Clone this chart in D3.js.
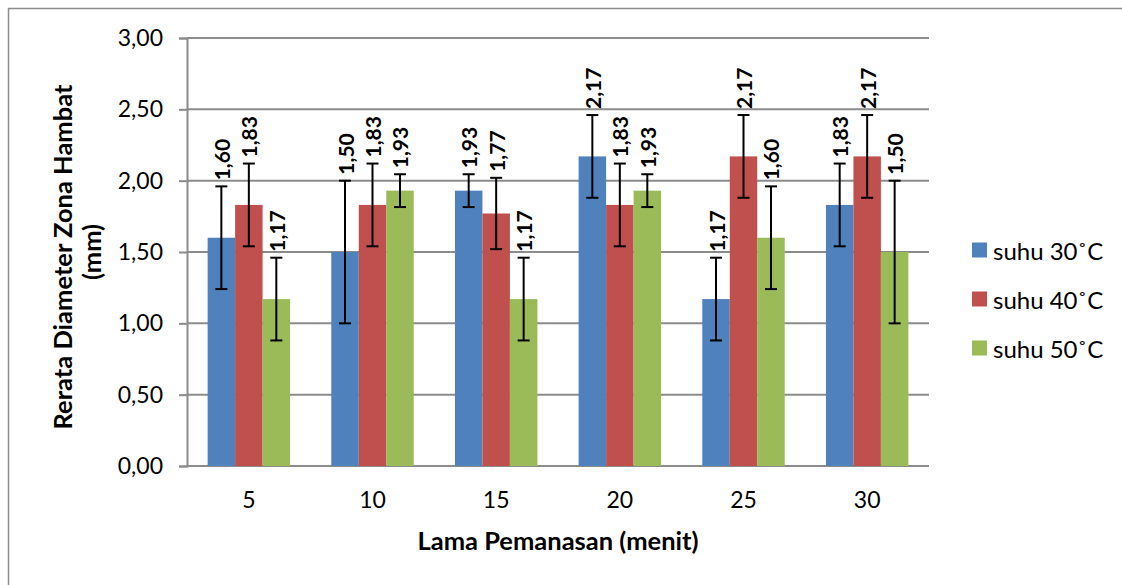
<!DOCTYPE html>
<html><head><meta charset="utf-8">
<script src="https://cdn.jsdelivr.net/npm/d3@7"></script>
<style>
html,body{margin:0;padding:0;background:#fff;}
svg{display:block;font-family:Lato,"Open Sans",sans-serif;}
</style></head>
<body>
<svg id="chart" width="1122" height="585"></svg>
<script>
const categories = ["5","10","15","20","25","30"];
const seriesNames = ["suhu 30˚C","suhu 40˚C","suhu 50˚C"];
const seriesColors = ["#4F81BD","#C0504D","#9BBB59"];
const suhu30 = [1.60,1.50,1.93,2.17,1.17,1.83];
const suhu40 = [1.83,1.83,1.77,1.83,2.17,2.17];
const suhu50 = [1.17,1.93,1.17,1.93,1.60,1.50];
const err30 = [0.36,0.50,0.115,0.29,0.29,0.29];
const err40 = [0.29,0.29,0.25,0.29,0.29,0.29];
const err50 = [0.29,0.115,0.29,0.115,0.36,0.50];
const yTicks = [0,0.5,1,1.5,2,2.5,3];
const xTitle = "Lama Pemanasan (menit)";
const yTitle1 = "Rerata Diameter Zona Hambat";
const yTitle2 = "(mm)";

const values = [suhu30,suhu40,suhu50];
const errors = [err30,err40,err50];
const fmt = v => v.toFixed(2).replace(".", ",");

const svg = d3.select("#chart");
const X0 = 187, X1 = 929, Y0 = 466, Y1 = 38;

// outer chart border
svg.append("path").attr("d","M8.5,600 L8.5,8.5 L1130,8.5")
  .attr("fill","none").attr("stroke","#8c8c8c").attr("stroke-width",1.5);

const x = d3.scaleBand().domain(categories).range([X0,X1]).paddingInner(1/3).paddingOuter(1/6);
const xs = d3.scaleBand().domain(d3.range(3)).range([0,x.bandwidth()]);
const y = d3.scaleLinear().domain([0,3]).range([Y0,Y1]);

// gridlines
svg.append("g").selectAll("line").data(yTicks).join("line")
  .attr("x1",X0).attr("x2",X1).attr("y1",d=>y(d)).attr("y2",d=>y(d))
  .attr("stroke","#8c8c8c").attr("stroke-width",2);

// y axis
const yAxis = svg.append("g").attr("transform",`translate(${X0},0)`)
  .call(d3.axisLeft(y).tickValues(yTicks).tickFormat(fmt).tickSize(8).tickPadding(16));
yAxis.select(".domain").attr("stroke","#8c8c8c").attr("stroke-width",2);
yAxis.selectAll(".tick line").attr("stroke","#8c8c8c").attr("stroke-width",2);
yAxis.selectAll(".tick text").attr("font-family","Lato").attr("font-size",23).attr("fill","#000");

// x axis
const xAxis = svg.append("g").attr("transform",`translate(0,${Y0})`)
  .call(d3.axisBottom(x).tickSize(0).tickPadding(26));
xAxis.select(".domain").remove();
xAxis.selectAll(".tick text").attr("font-family","Lato").attr("font-size",23).attr("fill","#000");

// bars
const rows = [];
categories.forEach((c,i)=>{
  for(let s=0;s<3;s++) rows.push({c, s, v: values[s][i], e: errors[s][i]});
});
const g = svg.append("g");
g.selectAll("rect").data(rows).join("rect")
  .attr("x",d=>x(d.c)+xs(d.s)).attr("width",xs.bandwidth())
  .attr("y",d=>y(d.v)).attr("height",d=>Y0-y(d.v))
  .attr("fill",d=>seriesColors[d.s]);

// error bars
const eb = svg.append("g").attr("stroke","#000").attr("stroke-width",2);
rows.forEach(d=>{
  const cx = x(d.c)+xs(d.s)+xs.bandwidth()/2;
  const t = y(d.v+d.e), b = y(d.v-d.e);
  eb.append("line").attr("x1",cx).attr("x2",cx).attr("y1",t).attr("y2",b);
  eb.append("line").attr("x1",cx-6).attr("x2",cx+6).attr("y1",t).attr("y2",t);
  eb.append("line").attr("x1",cx-6).attr("x2",cx+6).attr("y1",b).attr("y2",b);
});

// data labels
svg.append("g").selectAll("text").data(rows).join("text")
  .attr("transform",d=>{
    const cx = x(d.c)+xs(d.s)+xs.bandwidth()/2;
    return `translate(${cx},${y(d.v+d.e)-6}) rotate(-90)`;
  })
  .attr("text-anchor","start").attr("dominant-baseline","central")
  .attr("font-family","Lato").attr("font-weight","bold").attr("font-size",21)
  .text(d=>fmt(d.v));

// axis titles
svg.append("text").attr("x",558).attr("y",550).attr("text-anchor","middle")
  .attr("font-family","Lato").attr("font-weight","bold").attr("font-size",25.5).text(xTitle);
svg.append("text").attr("transform","translate(72,257) rotate(-90)").attr("text-anchor","middle")
  .attr("font-family","Lato").attr("font-weight","bold").attr("font-size",25.5).text(yTitle1);
svg.append("text").attr("transform","translate(101,252) rotate(-90)").attr("text-anchor","middle")
  .attr("font-family","Lato").attr("font-weight","bold").attr("font-size",25.5).text(yTitle2);

// legend
const lg = svg.append("g");
seriesNames.forEach((n,i)=>{
  const yy = 250 + i*49;
  lg.append("rect").attr("x",972).attr("y",yy-7.5).attr("width",15).attr("height",15).attr("fill",seriesColors[i]);
  lg.append("text").attr("x",993).attr("y",yy).attr("dominant-baseline","central")
    .attr("font-family","Lato").attr("font-size",24).text(n);
});
</script>
</body></html>
